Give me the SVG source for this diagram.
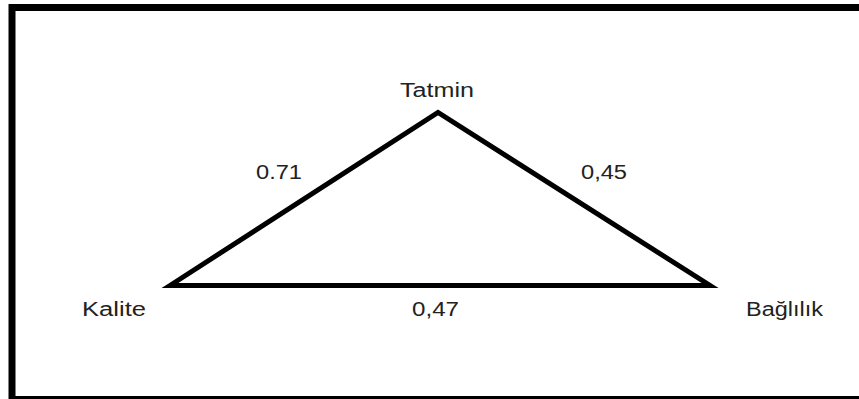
<svg xmlns="http://www.w3.org/2000/svg" width="859" height="399" viewBox="0 0 859 399">
<style>
text{font-family:"Liberation Sans",Arial,sans-serif;font-size:20px;fill:#222}
.edge{fill:none;stroke:#000;stroke-width:5;stroke-linejoin:miter;stroke-miterlimit:10}
</style>
<rect x="0" y="0" width="859" height="399" fill="#fff"/>
<rect x="12" y="7.5" width="900" height="392" fill="none" stroke="#000" stroke-width="7"/>
<g id="connectors">
<path class="edge" d="M170,285.5 L438,112.5 L710,285.5 Z"/>
</g>
<g id="node-tatmin"><text x="400" y="97" textLength="74" lengthAdjust="spacingAndGlyphs">Tatmin</text></g>
<g id="node-kalite"><text x="82" y="316" textLength="64" lengthAdjust="spacingAndGlyphs">Kalite</text></g>
<g id="node-baglilik"><text x="746" y="316" textLength="77" lengthAdjust="spacingAndGlyphs">Bağlılık</text></g>
<g id="label-071"><text x="256" y="179" textLength="46" lengthAdjust="spacingAndGlyphs">0.71</text></g>
<g id="label-045"><text x="581" y="179" textLength="46" lengthAdjust="spacingAndGlyphs">0,45</text></g>
<g id="label-047"><text x="412" y="316" textLength="47" lengthAdjust="spacingAndGlyphs">0,47</text></g>
</svg>
